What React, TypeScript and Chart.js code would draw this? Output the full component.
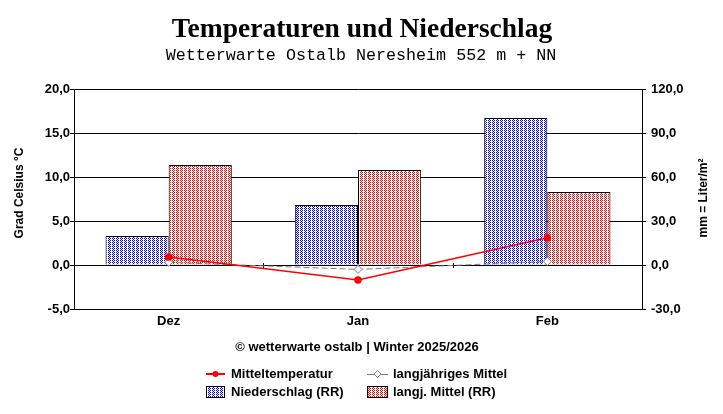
import React, { useEffect, useRef } from 'react';
import { Chart, registerables } from 'chart.js';

Chart.register(...registerables);

const categories = ['Dez', 'Jan', 'Feb'];
const meanTemp = [0.9, -1.7, 3.1];
const longTermTemp = [0.3, -0.5, 0.4];
const precip = [19.8, 40.9, 100.2];
const longTermPrecip = [68.2, 64.8, 49.8];
const tempTicks = [-5, 0, 5, 10, 15, 20];
const precipTicks = [-30, 0, 30, 60, 90, 120];

const TITLE = 'Temperaturen und Niederschlag';
const SUBTITLE = 'Wetterwarte Ostalb Neresheim 552 m + NN';
const LEFT_TITLE = 'Grad Celsius °C';
const RIGHT_TITLE = 'mm = Liter/m²';
const FOOTER = '© wetterwarte ostalb | Winter 2025/2026';
const legendLabels = ['Mitteltemperatur', 'langjähriges Mittel', 'Niederschlag (RR)', 'langj. Mittel (RR)'];

const SANS = '"Liberation Sans", Arial, sans-serif';

function makePattern(color: string): CanvasPattern | string {
  const c = document.createElement('canvas');
  c.width = 4;
  c.height = 2;
  const g = c.getContext('2d');
  if (!g) return color;
  g.fillStyle = '#ffffff';
  g.fillRect(0, 0, 4, 2);
  g.fillStyle = color;
  g.fillRect(0, 0, 1, 1);
  g.fillRect(2, 0, 1, 1);
  g.fillRect(1, 1, 1, 1);
  return g.createPattern(c, 'repeat') || color;
}

const fmt = (v: number | string) => Number(v).toFixed(1).replace('.', ',');

export default function App() {
  const ref = useRef<HTMLCanvasElement | null>(null);

  useEffect(() => {
    if (!ref.current) return;
    const bluePat = makePattern('#0000ff');
    const redPat = makePattern('#ff0000');

    const decor = {
      id: 'decor',
      beforeDatasetsDraw(chart: any) {
        const ctx = chart.ctx;
        const x = chart.scales.x;
        const y = chart.scales.y;
        const y0 = Math.round(y.getPixelForValue(0));
        ctx.save();
        ctx.strokeStyle = '#000';
        ctx.lineWidth = 1;
        for (let i = 0; i < categories.length - 1; i++) {
          const px = Math.round((x.getPixelForValue(i) + x.getPixelForValue(i + 1)) / 2) + 0.5;
          ctx.beginPath();
          ctx.moveTo(px, y0 - 2);
          ctx.lineTo(px, y0 + 3);
          ctx.stroke();
        }
        ctx.restore();
      },
      afterDraw(chart: any) {
        const ctx = chart.ctx;
        ctx.save();
        ctx.fillStyle = '#000';
        ctx.textAlign = 'center';
        ctx.textBaseline = 'alphabetic';
        ctx.font = 'bold 27.5px "Liberation Serif", "Times New Roman", serif';
        ctx.fillText(TITLE, 362, 37);
        ctx.font = '16.7px "Liberation Mono", "Courier New", monospace';
        ctx.fillText(SUBTITLE, 361, 60);

        ctx.textBaseline = 'middle';
        ctx.font = 'bold 12px ' + SANS;
        ctx.save();
        ctx.translate(20, 193);
        ctx.rotate(-Math.PI / 2);
        ctx.fillText(LEFT_TITLE, 0, 0);
        ctx.restore();
        ctx.save();
        ctx.translate(704, 198);
        ctx.rotate(-Math.PI / 2);
        ctx.fillText(RIGHT_TITLE, 0, 0);
        ctx.restore();

        ctx.font = 'bold 13px ' + SANS;
        ctx.fillText(FOOTER, 357, 347);

        // legend
        ctx.textAlign = 'left';
        const r1 = 374;
        const r2 = 392;
        ctx.strokeStyle = '#ff0000';
        ctx.lineWidth = 2;
        ctx.beginPath();
        ctx.moveTo(206, r1);
        ctx.lineTo(225, r1);
        ctx.stroke();
        ctx.fillStyle = '#ff0000';
        ctx.beginPath();
        ctx.arc(215.5, r1, 3, 0, Math.PI * 2);
        ctx.fill();
        ctx.strokeStyle = '#808080';
        ctx.lineWidth = 1;
        ctx.beginPath();
        ctx.moveTo(367, r1 + 0.5);
        ctx.lineTo(388, r1 + 0.5);
        ctx.stroke();
        ctx.fillStyle = '#ffffff';
        ctx.beginPath();
        ctx.moveTo(377.5, r1 - 3.5);
        ctx.lineTo(381, r1);
        ctx.lineTo(377.5, r1 + 3.5);
        ctx.lineTo(374, r1);
        ctx.closePath();
        ctx.fill();
        ctx.stroke();
        ctx.lineWidth = 1;
        ctx.strokeStyle = '#000';
        ctx.fillStyle = bluePat as any;
        ctx.fillRect(206, 386, 19, 12);
        ctx.strokeRect(206.5, 386.5, 18, 11);
        ctx.fillStyle = redPat as any;
        ctx.fillRect(367, 386, 21, 12);
        ctx.strokeRect(367.5, 386.5, 20, 11);

        ctx.fillStyle = '#000';
        ctx.font = 'bold 13px ' + SANS;
        ctx.fillText(legendLabels[0], 231, r1);
        ctx.fillText(legendLabels[1], 393, r1);
        ctx.fillText(legendLabels[2], 231, r2);
        ctx.fillText(legendLabels[3], 393, r2);
        ctx.restore();
      },
    };

    const chart = new Chart(ref.current, {
      type: 'bar',
      data: {
        labels: categories,
        datasets: [
          {
            type: 'line',
            label: legendLabels[0],
            data: meanTemp,
            yAxisID: 'y',
            borderColor: '#ff0000',
            backgroundColor: '#ff0000',
            borderWidth: 1.5,
            pointRadius: 3,
            pointStyle: 'circle',
            pointBackgroundColor: '#ff0000',
            pointBorderColor: '#ff0000',
            tension: 0,
            order: 0,
          } as any,
          {
            type: 'line',
            label: legendLabels[1],
            data: longTermTemp,
            yAxisID: 'y',
            borderColor: '#808080',
            backgroundColor: '#ffffff',
            borderWidth: 1,
            borderDash: [6, 3],
            pointRadius: 4,
            pointStyle: 'rectRot',
            pointBackgroundColor: '#ffffff',
            pointBorderColor: '#808080',
            tension: 0,
            order: 1,
          } as any,
          {
            type: 'bar',
            label: legendLabels[2],
            data: precip,
            yAxisID: 'y1',
            backgroundColor: bluePat as any,
            borderColor: '#000',
            borderWidth: 1,
            categoryPercentage: 0.667,
            barPercentage: 1,
            order: 2,
          },
          {
            type: 'bar',
            label: legendLabels[3],
            data: longTermPrecip,
            yAxisID: 'y1',
            backgroundColor: redPat as any,
            borderColor: '#000',
            borderWidth: 1,
            categoryPercentage: 0.667,
            barPercentage: 1,
            order: 2,
          },
        ],
      },
      options: {
        responsive: false,
        animation: false,
        devicePixelRatio: 1,
        layout: { padding: { top: 89, left: 0, right: 0, bottom: 0 } },
        plugins: {
          legend: { display: false },
          title: { display: false },
          tooltip: { enabled: false },
        },
        font: { family: SANS },
        scales: {
          x: {
            offset: true,
            grid: { display: false, drawTicks: false },
            border: { display: true, color: '#000', width: 1 },
            ticks: {
              color: '#000',
              font: { family: SANS, size: 13, weight: 'bold' },
              padding: 5,
            },
            afterFit: (s: any) => {
              s.height = 105;
            },
          },
          y: {
            position: 'left',
            min: tempTicks[0],
            max: tempTicks[tempTicks.length - 1],
            grid: { color: '#000', lineWidth: 1, drawTicks: true, tickLength: 4 },
            border: { display: true, color: '#000', width: 1 },
            ticks: {
              stepSize: tempTicks[1] - tempTicks[0],
              color: '#000',
              padding: 0,
              font: { family: SANS, size: 13, weight: 'bold' },
              callback: (v: any) => fmt(v),
            },
            afterFit: (s: any) => {
              s.width = 74;
            },
          },
          y1: {
            position: 'right',
            min: precipTicks[0],
            max: precipTicks[precipTicks.length - 1],
            grid: { drawOnChartArea: false, color: '#000', drawTicks: true, tickLength: 4 },
            border: { display: true, color: '#000', width: 1 },
            ticks: {
              stepSize: precipTicks[1] - precipTicks[0],
              color: '#000',
              padding: 5,
              font: { family: SANS, size: 13, weight: 'bold' },
              callback: (v: any) => fmt(v),
            },
            afterFit: (s: any) => {
              s.width = 81;
            },
          },
        },
      } as any,
      plugins: [decor],
    });

    return () => {
      chart.destroy();
    };
  }, []);

  return (
    <div style={{ position: 'fixed', left: 0, top: 0, width: 723, height: 414, background: '#fff' }}>
      <canvas ref={ref} width={723} height={414} style={{ display: 'block', width: 723, height: 414 }} />
    </div>
  );
}
